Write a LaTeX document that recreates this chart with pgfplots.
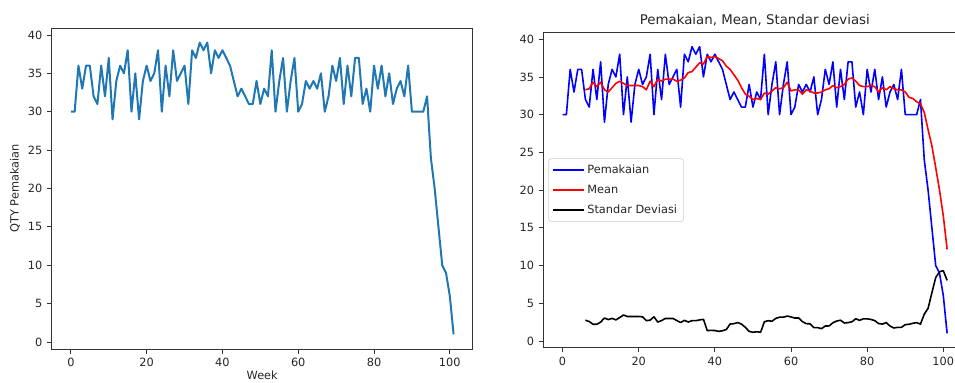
\documentclass[border=0pt]{standalone}
\usepackage{pgfplots}
\pgfplotsset{compat=1.18}
\usepackage{pgfplotstable}
\usepackage{fontspec}
\setmainfont{DejaVu Sans}
\definecolor{mplblue}{HTML}{1F77B4}
\definecolor{txt}{HTML}{262626}

\pgfplotstableread{
x y
0 30
1 30
2 36
3 33
4 36
5 36
6 32
7 31
8 36
9 32
10 37
11 29
12 34
13 36
14 35
15 38
16 30
17 35
18 29
19 34
20 36
21 34
22 35
23 38
24 30
25 36
26 32
27 38
28 34
29 35
30 36
31 31
32 38
33 37
34 39
35 38
36 39
37 35
38 38
39 37
40 38
41 37
42 36
43 34
44 32
45 33
46 32
47 31
48 31
49 34
50 31
51 33
52 32
53 38
54 30
55 34
56 37
57 30
58 34
59 37
60 30
61 31
62 34
63 33
64 34
65 33
66 35
67 30
68 32
69 36
70 34
71 37
72 31
73 36
74 32
75 37
76 37
77 31
78 33
79 30
80 36
81 33
82 36
83 32
84 35
85 31
86 33
87 34
88 32
89 36
90 30
91 30
92 30
93 30
94 32
95 24
96 20
97 15
98 10
99 9
100 6
101 1
}\usagetab

\pgfplotstableread{
x m s
6 33.29 2.75
7 33.43 2.57
8 34.29 2.21
9 33.71 2.21
10 34.29 2.50
11 33.29 3.04
12 33.00 2.83
13 33.57 2.99
14 34.14 2.79
15 34.43 3.10
16 34.14 3.44
17 33.86 3.24
18 33.86 3.24
19 33.86 3.24
20 33.86 3.24
21 33.71 3.20
22 33.29 2.69
23 34.43 2.76
24 33.71 3.20
25 34.71 2.50
26 34.43 2.70
27 34.71 2.98
28 34.71 2.98
29 34.71 2.98
30 34.43 2.70
31 34.57 2.44
32 34.86 2.73
33 35.57 2.51
34 35.71 2.69
35 36.29 2.69
36 36.86 2.79
37 36.71 2.87
38 37.71 1.38
39 37.57 1.40
40 37.71 1.38
41 37.43 1.27
42 37.14 1.35
43 36.43 1.51
44 36.00 2.24
45 35.29 2.29
46 34.57 2.44
47 33.57 2.23
48 32.71 1.80
49 32.43 1.27
50 32.00 1.15
51 32.14 1.22
52 32.00 1.15
53 32.86 2.54
54 32.71 2.69
55 33.14 2.61
56 33.57 2.99
57 33.43 3.15
58 33.57 3.15
59 34.29 3.30
60 33.14 3.18
61 33.29 3.04
62 33.29 3.04
63 32.71 2.56
64 33.29 2.29
65 33.14 2.27
66 32.86 1.77
67 32.86 1.77
68 33.00 1.63
69 33.29 1.98
70 33.43 1.99
71 33.86 2.41
72 33.57 2.64
73 33.71 2.75
74 34.00 2.38
75 34.71 2.43
76 34.86 2.54
77 34.43 2.94
78 33.86 2.73
79 33.71 2.93
80 33.71 2.93
81 33.86 2.85
82 33.71 2.69
83 33.00 2.31
84 33.57 2.23
85 33.29 2.43
86 33.71 1.98
87 33.43 1.72
88 33.29 1.80
89 33.29 1.80
90 33.00 2.16
91 32.29 2.21
92 32.14 2.34
93 31.71 2.43
94 31.43 2.23
95 30.29 3.55
96 28.00 4.32
97 25.86 6.39
98 23.00 8.39
99 20.00 9.18
100 16.57 9.31
101 12.14 8.03
}\statstab

\pgfplotsset{
  mplstyle/.style={
    scale only axis,
    anchor=south west,
    xmin=-5.05, xmax=106.05,
    ymin=-0.9, ymax=40.9,
    xtick={0,20,40,60,80,100},
    ytick={0,5,10,15,20,25,30,35,40},
    tick pos=left,
    tick align=outside,
    major tick length=3.5pt,
    axis line style={black!80, line width=0.6pt},
    every tick/.style={black!80, line width=0.6pt},
    tick label style={font=\fontsize{8.5}{10}\selectfont, text=txt},
    /pgf/number format/assume math mode=true,
    label style={font=\fontsize{8.5}{10}\selectfont, text=txt},
  }
}

\begin{document}
\begin{tikzpicture}
\useasboundingbox (0,0) rectangle (716.25pt,286.5pt);
\begin{axis}[mplstyle,
  at={(38.8pt,24.75pt)},
  width=315.75pt, height=240.75pt,
  xlabel={Week}, ylabel={QTY Pemakaian},
  xlabel style={at={(axis description cs:0.5,-0.083)},anchor=center},
  ylabel style={at={(axis description cs:-0.087,0.5)},anchor=center},
]
\addplot[mplblue, line width=1.5pt, line join=round] table[x=x,y=y] {\usagetab};
\end{axis}
\begin{axis}[mplstyle,
  at={(407.5pt,25.7pt)},
  width=317.25pt, height=236.5pt,
  title={Pemakaian, Mean, Standar deviasi},
  every axis title shift=0pt,
  title style={font=\fontsize{10}{12}\selectfont, text=txt,
    at={(axis description cs:0.5,1)}, anchor=base, yshift=6pt},
  legend cell align=left,
  legend style={at={(axis description cs:0.012,0.5)}, anchor=west,
    font=\fontsize{8.5}{10}\selectfont, text=txt,
    draw=black!20, rounded corners=2pt, fill=white,
    row sep=3pt, inner sep=2.8pt},
  legend image code/.code={\draw[#1] (0pt,0pt) -- (23pt,0pt);},
]
\addlegendimage{blue, line width=1.2pt}
\addlegendentry{Pemakaian}
\addlegendimage{red, line width=1.2pt}
\addlegendentry{Mean}
\addlegendimage{black, line width=1.2pt}
\addlegendentry{Standar Deviasi}
\addplot[blue, line width=1.2pt, line join=round, forget plot] table[x=x,y=y] {\usagetab};
\addplot[red, line width=1.2pt, line join=round, forget plot] table[x=x,y=m] {\statstab};
\addplot[black, line width=1.2pt, line join=round, forget plot] table[x=x,y=s] {\statstab};
\end{axis}
\end{tikzpicture}
\end{document}
